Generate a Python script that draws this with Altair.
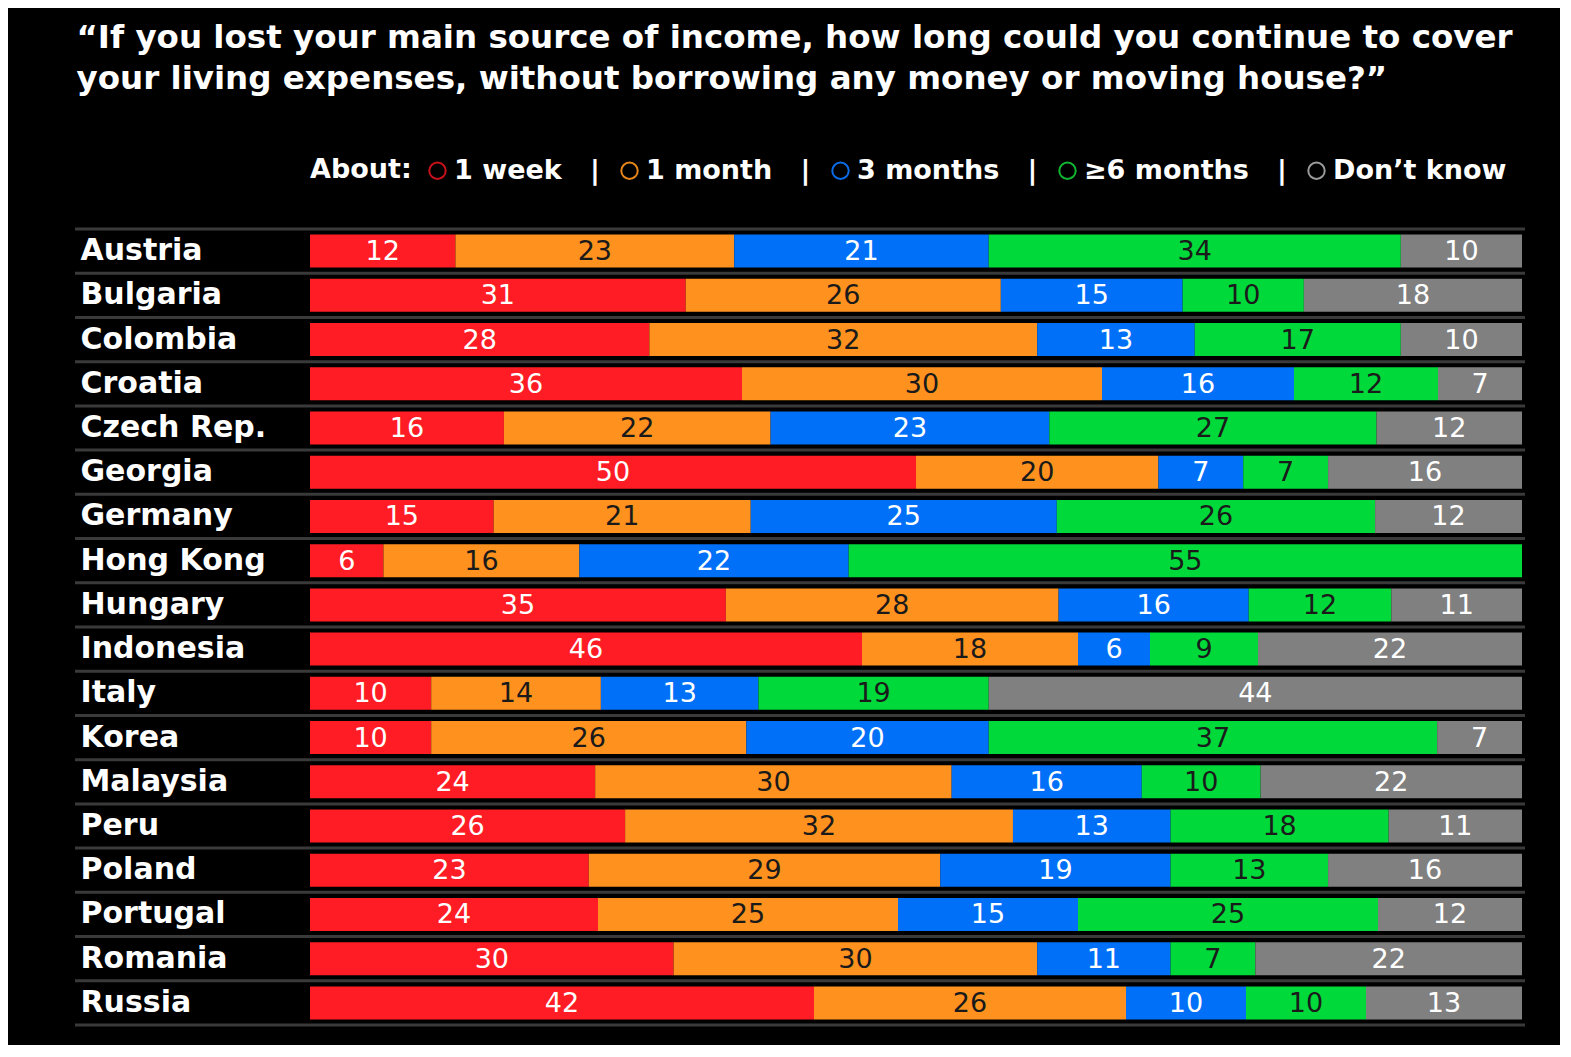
import altair as alt
import pandas as pd

countries = ["Austria", "Bulgaria", "Colombia", "Croatia", "Czech Rep.", "Georgia",
             "Germany", "Hong Kong", "Hungary", "Indonesia", "Italy", "Korea",
             "Malaysia", "Peru", "Poland", "Portugal", "Romania", "Russia"]
categories = ["1 week", "1 month", "3 months", "\u22656 months", "Don\u2019t know"]

one_week = [12, 31, 28, 36, 16, 50, 15, 6, 35, 46, 10, 10, 24, 26, 23, 24, 30, 42]
one_month = [23, 26, 32, 30, 22, 20, 21, 16, 28, 18, 14, 26, 30, 32, 29, 25, 30, 26]
three_months = [21, 15, 13, 16, 23, 7, 25, 22, 16, 6, 13, 20, 16, 13, 19, 15, 11, 10]
six_months = [34, 10, 17, 12, 27, 7, 26, 55, 12, 9, 19, 37, 10, 18, 13, 25, 7, 10]
dont_know = [10, 18, 10, 7, 12, 16, 12, 0, 11, 22, 44, 7, 22, 11, 16, 12, 22, 13]

colors = ["#FF1C24", "#FF921E", "#0070F8", "#00D93A", "#808080"]
legend_colors = ["#C8101A", "#E8861A", "#0A6CE8", "#10B530", "#9a9a9a"]
text_colors = ["#ffffff", "#1a1a1a", "#ffffff", "#1a1a1a", "#ffffff"]

series = [one_week, one_month, three_months, six_months, dont_know]
rows = []
for i, c in enumerate(countries):
    for j, cat in enumerate(categories):
        rows.append({"country": c, "cat": cat, "order": j, "value": series[j][i],
                     "bcol": colors[j], "tcol": text_colors[j]})
df = pd.DataFrame(rows)

W = 1212
H = 796
FONT = "DejaVu Sans"
NB = "\u00a0"

axis_y = alt.Axis(title=None, domain=False, ticks=False, labelAlign="left",
                  labelPadding=230, labelFont=FONT, labelFontWeight="bold",
                  labelFontSize=30, labelColor="white", labelLimit=400,
                  labelBaseline="middle", grid=False)
yenc = alt.Y("country:N", sort=countries,
             scale=alt.Scale(paddingInner=0, paddingOuter=0), axis=axis_y)

base = alt.Chart(df).transform_stack(
    stack="value", groupby=["country"], as_=["v0", "v1"], offset="normalize",
    sort=[alt.SortField("order", order="ascending")]
).transform_calculate(mid="(datum.v0 + datum.v1) / 2")

xscale = alt.Scale(domain=[0, 1], nice=False, zero=False)

bars = base.mark_bar(height=33).encode(
    y=yenc,
    x=alt.X("v0:Q", scale=xscale, axis=None),
    x2="v1:Q",
    fill=alt.Fill("bcol:N", scale=None),
)

labels = base.transform_filter("datum.value > 0").mark_text(
    font=FONT, fontSize=27, baseline="middle", align="center", dy=1
).encode(
    y=yenc,
    x=alt.X("mid:Q", scale=xscale, axis=None),
    text="value:Q",
    color=alt.Color("tcol:N", scale=None),
)

sep_suffix = NB * 3 + "|"
legend_layer = base.mark_point(shape="circle", filled=False, size=0).encode(
    y=yenc,
    x=alt.X("v1:Q", scale=xscale, axis=None),
    stroke=alt.Stroke(
        "cat:N", scale=alt.Scale(domain=categories, range=legend_colors),
        legend=alt.Legend(
            orient="none", legendX=0, legendY=-72, direction="horizontal",
            title="About:", titleOrient="left", titleFont=FONT, titleFontWeight="bold",
            titleFontSize=27, titleColor="white", titlePadding=12,
            labelFont=FONT, labelFontWeight="bold", labelFontSize=27,
            labelColor="white", labelLimit=500,
            labelExpr="datum.label == 'Don\u2019t know' ? datum.label : datum.label + '" + sep_suffix + "'",
            symbolType="circle", symbolSize=270, symbolStrokeWidth=2,
            symbolOpacity=1, symbolFillColor="transparent", columnPadding=16,
            labelOffset=3,
        ),
    ),
)

sep_df = pd.DataFrame({"country": countries})
seps = alt.Chart(sep_df).mark_rule(color="#3a3a3a", strokeWidth=3).encode(
    y=alt.Y("country:N", sort=countries, bandPosition=0,
            scale=alt.Scale(paddingInner=0, paddingOuter=0), axis=axis_y),
    x=alt.value(-235), x2=alt.value(1215),
)
bottom_sep = alt.Chart(pd.DataFrame({"k": [0]})).mark_rule(color="#3a3a3a", strokeWidth=3).encode(
    y=alt.value(H), x=alt.value(-235), x2=alt.value(1215),
)

title = alt.TitleParams(
    text=["\u201cIf you lost your main source of income, how long could you continue to cover",
          "your living expenses, without borrowing any money or moving house?\u201d"],
    anchor="start", dx=3, offset=62, font=FONT, fontWeight="bold",
    fontSize=32.5, color="white", lineHeight=41,
)

chart = alt.layer(seps, bottom_sep, bars, labels, legend_layer).properties(
    width=W, height=H, title=title,
    autosize=alt.AutoSizeParams(type="none"),
    padding={"left": 302, "top": 221, "right": 38, "bottom": 20},
    background="black",
).configure_view(stroke=None)

chart.save("out.html", embed_options={"renderer": "svg", "actions": False})
